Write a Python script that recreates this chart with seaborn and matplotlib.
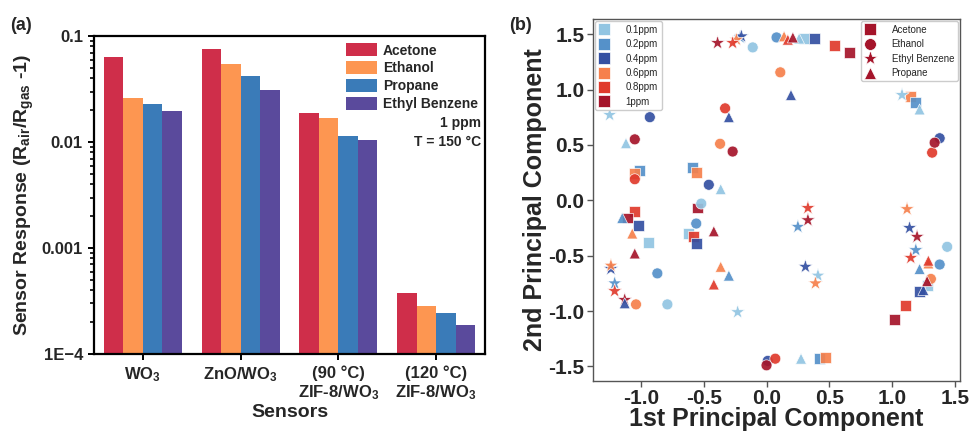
import numpy as np
import pandas as pd
import matplotlib
matplotlib.use('Agg')
import matplotlib.pyplot as plt
import matplotlib.ticker as mticker
from matplotlib.lines import Line2D
import seaborn as sns

# --- (a) sensor responses at 1 ppm, 150 C ---
sensors = ['WO$_3$', 'ZnO/WO$_3$', '(90 °C)\nZIF-8/WO$_3$', '(120 °C)\nZIF-8/WO$_3$']
gases = ['Acetone', 'Ethanol', 'Propane', 'Ethyl Benzene']
acetone_resp = [0.0638, 0.0760, 0.0189, 0.000376]
ethanol_resp = [0.0262, 0.0541, 0.0169, 0.000281]
propane_resp = [0.0227, 0.0420, 0.0115, 0.000245]
ethylbenz_resp = [0.0198, 0.0310, 0.0104, 0.000189]
bar_colors = ['#cf2e4a', '#fd9651', '#3a7bb8', '#5a4a9c']

# --- (b) PCA scores ---
conc_labels = ['0.1ppm', '0.2ppm', '0.4ppm', '0.6ppm', '0.8ppm', '1ppm']
conc_colors = ['#92c5e2', '#5591c9', '#3450a2', '#f6804c', '#e03a2c', '#a5142a']
gas_order = ['Acetone', 'Ethanol', 'Ethyl Benzene', 'Propane']
gas_markers = {'Acetone': 's', 'Ethanol': 'o', 'Ethyl Benzene': '*', 'Propane': '^'}
gas_sizes = {'Acetone': 62, 'Ethanol': 62, 'Ethyl Benzene': 120, 'Propane': 62}

acetone_conc = ['0.8ppm', '1ppm', '0.4ppm', '0.1ppm', '0.2ppm', '0.6ppm', '0.2ppm', '0.6ppm',
                '1ppm', '0.1ppm', '0.8ppm', '0.4ppm', '0.1ppm', '0.4ppm', '0.8ppm', '1ppm',
                '0.6ppm', '0.2ppm', '0.1ppm', '0.4ppm', '0.8ppm', '1ppm', '0.2ppm', '0.6ppm']
acetone_pc1 = [-1.05, -1.11, -1.02, -0.94, -1.01, -1.05, -0.59, -0.56, -0.55, -0.62, -0.58, -0.56,
               0.30, 0.38, 0.54, 0.66, 1.15, 1.19, 1.28, 1.22, 1.11, 1.02, 0.42, 0.47]
acetone_pc2 = [-0.10, -0.16, -0.23, -0.38, 0.265, 0.245, 0.30, 0.25, -0.07, -0.30, -0.33, -0.39,
               1.46, 1.46, 1.40, 1.33, 0.935, 0.88, -0.77, -0.82, -0.95, -1.08, -1.43, -1.42]

ethanol_conc = ['0.1ppm'] * 4 + ['0.2ppm'] * 4 + ['0.4ppm'] * 4 + ['0.6ppm'] * 4 + ['0.8ppm'] * 4 + ['1ppm'] * 4
ethanol_pc1 = [-0.11, -0.52, -0.79, 1.44, 0.08, -0.56, -0.87, 1.38, -0.93, -0.46, 0.01, 1.38,
               0.11, -0.37, -1.04, 1.31, -0.33, -1.05, 0.07, 1.32, -1.05, -0.27, 0.00, 1.34]
ethanol_pc2 = [1.38, -0.03, -0.94, -0.42, 1.47, -0.21, -0.66, -0.58, 0.75, 0.14, -1.45, 0.56,
               1.155, 0.51, -0.94, -0.71, 0.83, 0.19, -1.43, 0.43, 0.55, 0.44, -1.49, 0.52]

ethylbenz_conc = ['0.1ppm'] * 4 + ['0.2ppm'] * 4 + ['0.4ppm'] * 4 + ['0.6ppm'] * 4 + ['0.8ppm'] * 4 + ['1ppm'] * 4
ethylbenz_pc1 = [-1.25, -0.23, 0.41, 1.08, -1.21, 0.25, 1.19, -0.21, -0.20, -1.24, 0.31, 1.14,
                 -0.24, -1.24, 0.39, 1.12, -0.27, -1.21, 0.33, 1.15, -0.39, -1.13, 0.33, 1.20]
ethylbenz_pc2 = [0.77, -1.01, -0.68, 0.95, -0.75, -0.24, -0.45, 1.47, 1.48, -0.62, -0.60, -0.25,
                 1.45, -0.59, -0.75, -0.08, 1.42, -0.82, -0.07, -0.52, 1.42, -0.90, -0.18, -0.33]

propane_conc = ['0.1ppm'] * 5 + ['0.2ppm'] * 3 + ['0.4ppm'] * 4 + ['0.6ppm'] * 4 + ['0.8ppm'] * 3 + ['1ppm'] * 4
propane_pc1 = [-1.12, -0.365, 0.275, 1.22, 0.26, -1.15, -0.30, 1.22, 0.195, -0.30, -1.13, 1.25,
               -1.07, -0.365, 1.29, 0.14, -0.42, 1.29, 0.17, -1.05, -0.42, 0.21, 1.28]
propane_pc2 = [0.515, 0.10, -1.43, 0.82, 1.46, -0.16, -0.68, -0.62, 0.95, 0.75, -0.93, -0.81,
               -0.30, -0.60, -0.57, 1.48, -0.76, -0.545, 1.45, -0.48, -0.28, 1.47, -0.73]


def main():
    sns.set_style('ticks')
    plt.rcParams['font.family'] = ['Liberation Sans', 'DejaVu Sans']
    plt.rcParams['mathtext.fontset'] = 'custom'
    plt.rcParams['mathtext.rm'] = 'Liberation Sans:bold'
    plt.rcParams['mathtext.it'] = 'Liberation Sans:bold'
    plt.rcParams['mathtext.bf'] = 'Liberation Sans:bold'
    plt.rcParams['mathtext.default'] = 'rm'

    fig = plt.figure(figsize=(9.69, 4.33), dpi=100)
    ax1 = fig.add_axes([0.097, 0.1824, 0.4035, 0.734])
    ax2 = fig.add_axes([0.6117, 0.121, 0.379, 0.835])

    # --- Panel (a): grouped bars on log scale ---
    bars = pd.DataFrame({
        'sensor': sensors * 4,
        'gas': np.repeat(gases, len(sensors)),
        'response': acetone_resp + ethanol_resp + propane_resp + ethylbenz_resp,
    })
    sns.barplot(data=bars, x='sensor', y='response', hue='gas', hue_order=gases,
                palette=bar_colors, saturation=1, width=0.8, errorbar=None,
                linewidth=0, ax=ax1)
    ax1.set_yscale('log')
    ax1.set_ylim(1e-4, 0.1)
    ax1.set_xlim(-0.5, 3.5)
    ax1.yaxis.set_major_locator(mticker.FixedLocator([1e-4, 1e-3, 1e-2, 1e-1]))
    ax1.yaxis.set_major_formatter(mticker.FixedFormatter(['1E\u22124', '0.001', '0.01', '0.1']))
    minor = [m * 10.0 ** e for e in (-4, -3, -2) for m in range(2, 10)]
    ax1.yaxis.set_minor_locator(mticker.FixedLocator(minor))
    ax1.yaxis.set_minor_formatter(mticker.NullFormatter())
    for s in ax1.spines.values():
        s.set_linewidth(1.6)
        s.set_color('black')
    ax1.tick_params(axis='both', which='major', direction='out', length=4.5, width=1.4,
                    labelsize=12, color='black')
    ax1.tick_params(axis='y', which='minor', direction='out', length=3, width=1.2,
                    color='black', left=True)
    for lab in ax1.get_xticklabels() + ax1.get_yticklabels():
        lab.set_fontweight('bold')
    ax1.set_xlabel('Sensors', fontsize=14, fontweight='bold', labelpad=1)
    ax1.set_ylabel('Sensor Response (R$_{air}$/R$_{gas}$ -1)', fontsize=14, fontweight='bold', labelpad=4)

    ax1.legend(loc='upper right', frameon=False, prop={'weight': 'bold', 'size': 10},
               handlelength=2.3, handleheight=1.1, labelspacing=0.25, handletextpad=0.4,
               borderaxespad=0.2, borderpad=0.3)
    ax1.text(0.99, 0.726, '1 ppm', transform=ax1.transAxes, ha='right', va='center',
             fontsize=10, fontweight='bold')
    ax1.text(0.99, 0.667, 'T = 150 °C', transform=ax1.transAxes, ha='right', va='center',
             fontsize=10, fontweight='bold')

    # --- Panel (b): PCA scatter ---
    pca = pd.DataFrame({
        'pc1': acetone_pc1 + ethanol_pc1 + ethylbenz_pc1 + propane_pc1,
        'pc2': acetone_pc2 + ethanol_pc2 + ethylbenz_pc2 + propane_pc2,
        'conc': acetone_conc + ethanol_conc + ethylbenz_conc + propane_conc,
        'gas': (['Acetone'] * len(acetone_pc1) + ['Ethanol'] * len(ethanol_pc1)
                + ['Ethyl Benzene'] * len(ethylbenz_pc1) + ['Propane'] * len(propane_pc1)),
    })
    sns.scatterplot(data=pca, x='pc1', y='pc2', hue='conc', hue_order=conc_labels,
                    palette=conc_colors, style='gas', style_order=gas_order,
                    markers=gas_markers, size='gas', sizes=gas_sizes,
                    edgecolor='white', linewidth=0.5,
                    alpha=0.92, legend=False, ax=ax2)
    ax2.set_xlim(-1.385, 1.542)
    ax2.set_ylim(-1.628, 1.636)
    ax2.set_xticks([-1.0, -0.5, 0.0, 0.5, 1.0, 1.5])
    ax2.set_yticks([-1.5, -1.0, -0.5, 0.0, 0.5, 1.0, 1.5])
    ax2.xaxis.set_major_formatter(mticker.FormatStrFormatter('%.1f'))
    ax2.yaxis.set_major_formatter(mticker.FormatStrFormatter('%.1f'))
    for s in ax2.spines.values():
        s.set_linewidth(1.0)
        s.set_color('#555555')
    ax2.tick_params(axis='both', direction='out', length=4, width=1, color='#555555',
                    labelsize=15, pad=2)
    for lab in ax2.get_xticklabels() + ax2.get_yticklabels():
        lab.set_fontweight('bold')
    ax2.set_xlabel('1st Principal Component', fontsize=18, fontweight='bold', labelpad=-1)
    ax2.set_ylabel('2nd Principal Component', fontsize=18, fontweight='bold', labelpad=1)

    conc_handles = [Line2D([], [], marker='s', linestyle='', markersize=8, color=c,
                           markeredgecolor='white', markeredgewidth=0.5) for c in conc_colors]
    leg1 = ax2.legend(conc_handles, conc_labels, loc='upper left', fontsize=7,
                      handlelength=1.2, handletextpad=1.6, labelspacing=0.45,
                      borderpad=0.35, borderaxespad=0.25, framealpha=1,
                      edgecolor='#cccccc', fancybox=True)
    ax2.add_artist(leg1)
    gas_handles = [Line2D([], [], marker=gas_markers[g], linestyle='',
                          markersize=8.5 if g != 'Ethyl Benzene' else 11,
                          color='#a5142a', markeredgecolor='white', markeredgewidth=0.5)
                   for g in gas_order]
    ax2.legend(gas_handles, gas_order, loc='upper right', fontsize=7,
               handlelength=1.2, handletextpad=1.6, labelspacing=0.45,
               borderpad=0.35, borderaxespad=0.25, framealpha=1,
               edgecolor='#cccccc', fancybox=True)

    fig.text(0.010, 0.94, '(a)', fontsize=13, fontweight='bold', va='center')
    fig.text(0.525, 0.94, '(b)', fontsize=13, fontweight='bold', va='center')

    fig.savefig('out.png', dpi=100)
    plt.close(fig)


if __name__ == '__main__':
    main()
